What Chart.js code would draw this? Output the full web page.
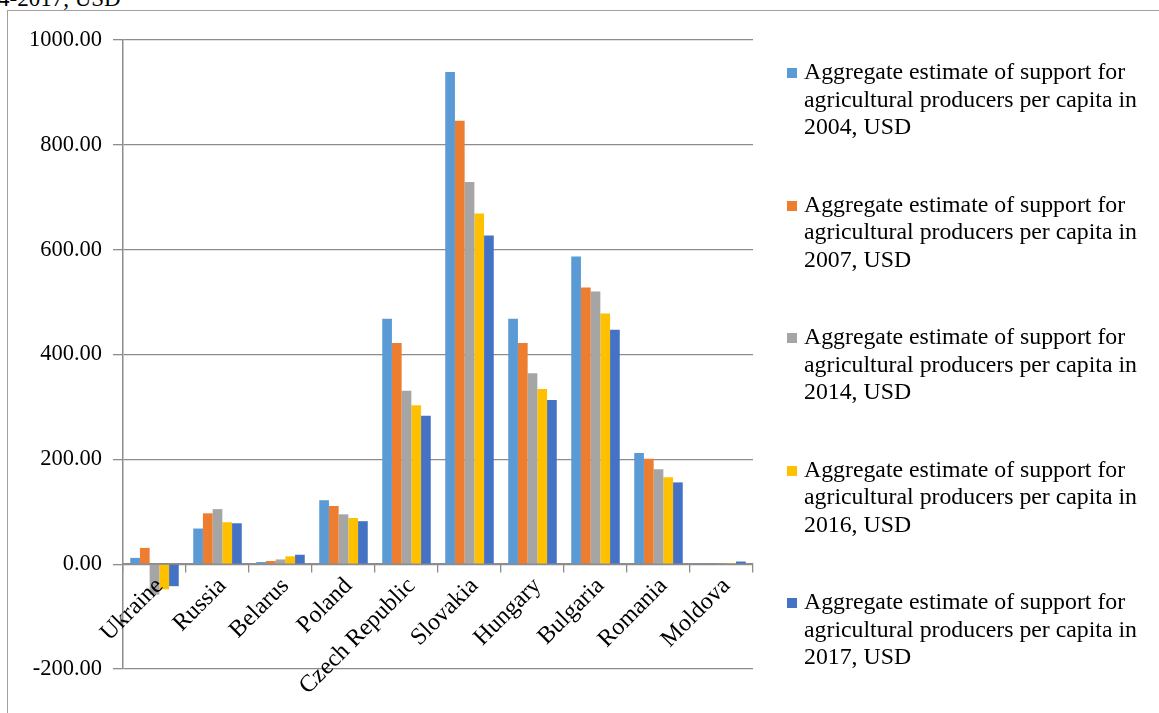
<!DOCTYPE html>
<html>
<head>
<meta charset="utf-8">
<script src="https://cdn.jsdelivr.net/npm/chart.js@4.4.0/dist/chart.umd.min.js"></script>
<style>
  html, body { margin: 0; padding: 0; background: #fff; overflow: hidden; }
  body { width: 1159px; height: 713px; position: relative; font-family: "Liberation Serif", "Times New Roman", serif; }
  #frame { position: absolute; left: 7px; top: 10px; width: 1170px; height: 720px; border: 1.5px solid #a0a0a0; box-sizing: border-box; }
  #cut { position: absolute; left: -2px; top: -12px; font-size: 23px; line-height: 22px; color: #000; white-space: nowrap; }
  #chart { position: absolute; left: 0; top: 0; }
  .item { position: absolute; left: 787px; width: 370px; }
  .sw { position: absolute; left: 0; top: 10px; width: 10px; height: 10px; }
  .txt { position: absolute; left: 17px; font-size: 23.8px; line-height: 27.5px; color: #000; white-space: nowrap; }
</style>
</head>
<body>
<div id="cut">4-2017, USD</div>
<div id="frame"></div>
<canvas id="chart" width="1159" height="713"></canvas>
<div id="legend"></div>
<script>
// Datos
const countries = ['Ukraine', 'Russia', 'Belarus', 'Poland', 'Czech Republic', 'Slovakia', 'Hungary', 'Bulgaria', 'Romania', 'Moldova'];
const years = ['2004', '2007', '2014', '2016', '2017'];
const v2004 = [12, 68, 4, 122, 468, 939, 468, 587, 212, 0.5];
const v2007 = [31, 97, 6, 111, 422, 846, 422, 528, 201, 1];
const v2014 = [-58, 105, 9, 95, 331, 729, 364, 520, 181, 2];
const v2016 = [-48, 80, 15, 88, 303, 669, 334, 478, 166, 2];
const v2017 = [-42, 78, 18, 82, 283, 627, 313, 447, 156, 5];
const yTicks = [-200, 0, 200, 400, 600, 800, 1000];

const colors = ['#5B9BD5', '#ED7D31', '#A5A5A5', '#FFC000', '#4472C4'];
const series = [v2004, v2007, v2014, v2016, v2017];
const labelFor = y => 'Aggregate estimate of support for\nagricultural producers per capita in\n' + y + ', USD';

const serif = '"Liberation Serif", "Times New Roman", serif';

// Leyenda en HTML (texto real, varias líneas)
const legend = document.getElementById('legend');
years.forEach((y, i) => {
  const item = document.createElement('div');
  item.className = 'item';
  item.style.top = (58 + i * 132.5) + 'px';
  const sw = document.createElement('div');
  sw.className = 'sw';
  sw.style.background = colors[i];
  const txt = document.createElement('div');
  txt.className = 'txt';
  txt.innerHTML = labelFor(y).split('\n').join('<br>');
  item.appendChild(sw);
  item.appendChild(txt);
  legend.appendChild(item);
});

const config = {
  type: 'bar',
  data: {
    labels: countries,
    datasets: years.map((y, i) => ({
      label: labelFor(y),
      data: series[i],
      backgroundColor: colors[i],
      borderWidth: 0,
      barPercentage: 1,
      categoryPercentage: 0.77,
    })),
  },
  options: {
    responsive: false,
    animation: false,
    devicePixelRatio: 1,
    layout: { padding: { left: 0, right: 406, top: 40, bottom: 44 } },
    scales: {
      x: {
        position: { y: 0 },
        grid: { offset: true, drawOnChartArea: false, drawTicks: true, tickLength: 8, color: '#8c8c8c', lineWidth: 1.3 },
        border: { display: true, color: '#8c8c8c', width: 1.5 },
        ticks: { z: 1, color: '#000', font: { family: serif, size: 24 }, minRotation: 45, maxRotation: 45, padding: 0, labelOffset: 5, autoSkip: false },
      },
      y: {
        min: -200,
        max: 1000,
        afterFit: s => { s.width = 123; },
        afterBuildTicks: s => { s.ticks = yTicks.map(v => ({ value: v })); },
        grid: { color: '#8c8c8c', lineWidth: 1.3, tickLength: 10 },
        border: { display: true, color: '#8c8c8c', width: 1.5 },
        ticks: { color: '#000', font: { family: serif, size: 22.5 }, padding: 11, callback: v => v.toFixed(2) },
      },
    },
    plugins: {
      legend: { display: false },
      tooltip: { enabled: false },
      title: { display: false },
    },
  },
};

new Chart(document.getElementById('chart').getContext('2d'), config);
</script>
</body>
</html>
